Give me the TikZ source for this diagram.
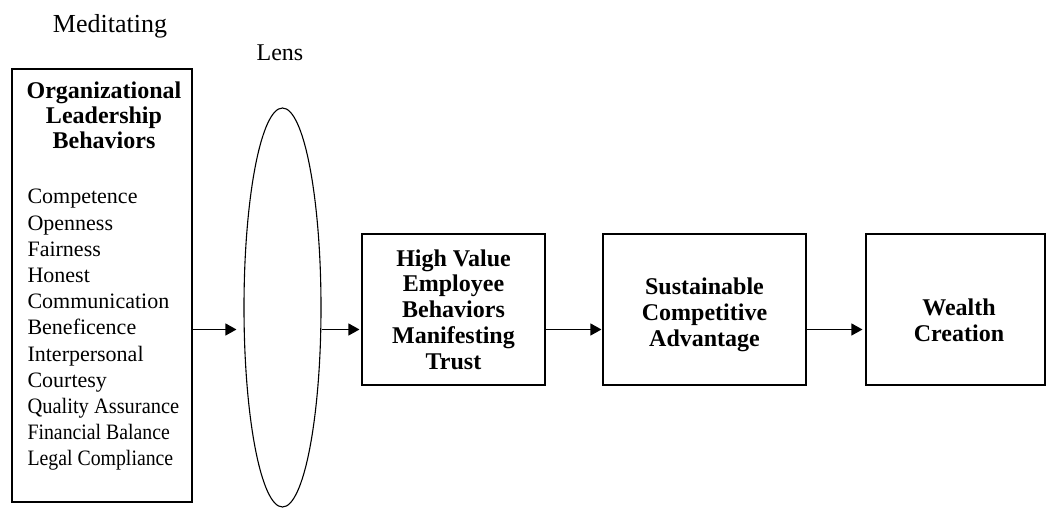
\documentclass[tikz,border=0pt]{standalone}
\usepackage{fontspec}
\setmainfont{Liberation Serif}
\usepackage{tikz}
\usetikzlibrary{arrows.meta, shapes.geometric}

\begin{document}
\begin{tikzpicture}[x=1pt, y=1pt, line width=1.1pt, >={Triangle[length=11pt, width=12pt]},
    bloc/.style={draw, inner sep=0pt, minimum width=#1, minimum height=151pt},
    bloctext/.style={align=center, font=\fontsize{24}{25.8}\selectfont\bfseries}]
    \useasboundingbox (0,0) rectangle (1046,508);

    % Titres au-dessus des colonnes
    \node[anchor=base, font=\fontsize{26}{28}\selectfont] (medit) at (110,475) {Meditating};
    \node[anchor=base, font=\fontsize{24}{26}\selectfont] (lenstitle) at (280,447) {Lens};

    % Cadre de gauche (comportements de direction)
    \node[draw, inner sep=0pt, minimum width=180pt, minimum height=433pt] (olb) at (102,222.5) {};
    % (ancre base = ligne du bas du texte)
    \node[anchor=base, align=center, font=\fontsize{24}{25}\selectfont\bfseries] (olbtitle) at (104,359)
        {Organizational\\Leadership\\Behaviors};
    \node[anchor=base west, align=left, inner sep=0pt, font=\fontsize{22}{26.2}\selectfont] (olblist) at (27,42)
        {Competence\\Openness\\Fairness\\Honest\\Communication\\Beneficence\\Interpersonal\\Courtesy\\
         \scalebox{0.93}[1]{Quality Assurance}\\\scalebox{0.9}[1]{Financial Balance}\\\scalebox{0.9}[1]{Legal Compliance}};

    % La lentille (ellipse verticale)
    \node[ellipse, draw, inner sep=0pt, minimum width=77pt, minimum height=399pt] (lens) at (282.5,200.5) {};

    % Cadres de droite
    \node[bloc=183pt] (hveb) at (453.5,198.5) {};
    \node[bloctext] (hvebtext) at (453.5,198.5) {High Value\\Employee\\Behaviors\\Manifesting\\Trust};
    \node[bloc=203pt] (sca) at (704.5,198.5) {};
    \node[bloctext] (scatext) at (704.5,193) {Sustainable\\Competitive\\Advantage};
    \node[bloc=179pt] (wealth) at (955.5,198.5) {};
    \node[bloctext] (wealthtext) at (959,188) {Wealth\\Creation};

    % Fleches (toutes sur la meme ligne)
    \coordinate (row) at (0,178.5);
    \draw[->, shorten >=7pt] (olb.east |- row) -- (lens.west |- row);
    \draw[->, shorten >=2pt] (lens.east |- row) -- (hveb.west |- row);
    \draw[->, shorten >=1pt] (hveb.east |- row) -- (sca.west |- row);
    \draw[->, shorten >=3pt] (sca.east |- row) -- (wealth.west |- row);

\end{tikzpicture}
\end{document}
